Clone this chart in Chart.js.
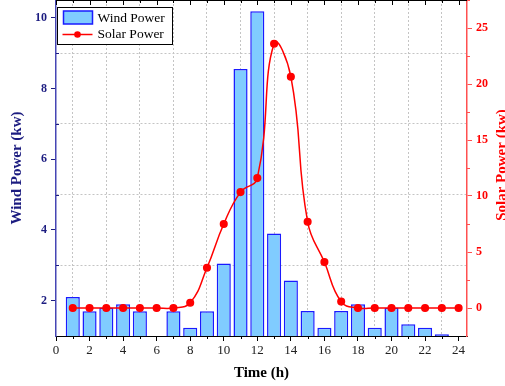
<!DOCTYPE html>
<html>
<head>
<meta charset="utf-8">
<script src="https://cdn.jsdelivr.net/npm/chart.js@4.4.1/dist/chart.umd.min.js"></script>
<style>
  html, body { margin: 0; padding: 0; background: #fff; }
  #wrap { width: 505px; height: 386px; }
</style>
</head>
<body>
<div id="wrap"><canvas id="chart" width="505" height="386"></canvas></div>
<script>
// hours of the day
const hours = [1, 2, 3, 4, 5, 6, 7, 8, 9, 10, 11, 12, 13, 14, 15, 16, 17, 18, 19, 20, 21, 22, 23, 24];
// wind power (kw), left axis
const windPower = [2.1, 1.7, 1.8, 1.9, 1.7, null, 1.7, 1.23, 1.7, 3.05, 8.55, 10.18,
                   3.9, 2.57, 1.71, 1.23, 1.71, 1.9, 1.23, 1.8, 1.33, 1.23, 1.05, null];
// solar power (kw), right axis
const solarPower = [0, 0, 0, 0, 0, 0, 0, 0.47, 3.6, 7.5, 10.35, 11.6,
                    23.6, 20.65, 7.7, 4.1, 0.57, 0, 0, 0, 0, 0, 0, 0];

const SERIF = "'Liberation Serif', 'Times New Roman', serif";
const NAVY = "#1c1c80";
const RED = "#ff0000";
const GRID = "#c4c4c4";
const NONE = "rgba(0,0,0,0)";

// no extra room for half labels at the ends of the axes
const noPad = s => { s.paddingTop = 0; s.paddingBottom = 0; s.paddingLeft = 0; s.paddingRight = 0; };

// ticks on the top edge, minor ticks, right title and the boxed legend
const extras = {
  id: "extras",
  afterDraw(chart) {
    const { ctx, chartArea: a, scales: { x, y, y1 } } = chart;
    ctx.save();
    ctx.lineWidth = 1;

    // top frame with inward ticks
    ctx.strokeStyle = "#000";
    ctx.beginPath();
    ctx.moveTo(a.left, a.top + 0.5);
    ctx.lineTo(a.right, a.top + 0.5);
    for (let v = 0; v <= 24; v++) {
      const px = Math.round(x.getPixelForValue(v)) + 0.5;
      ctx.moveTo(px, a.top);
      ctx.lineTo(px, a.top + (v % 2 ? 3 : 5));
    }
    // bottom minor ticks
    for (let v = 1; v <= 23; v += 2) {
      const px = Math.round(x.getPixelForValue(v)) + 0.5;
      ctx.moveTo(px, a.bottom);
      ctx.lineTo(px, a.bottom + 3);
    }
    ctx.stroke();

    // left minor ticks (inward)
    ctx.strokeStyle = NAVY;
    ctx.beginPath();
    for (let v = 3; v <= 9; v += 2) {
      const py = Math.round(y.getPixelForValue(v)) + 0.5;
      ctx.moveTo(a.left, py);
      ctx.lineTo(a.left + 3, py);
    }
    ctx.stroke();

    // right minor ticks (outward)
    ctx.strokeStyle = "#ff5050";
    ctx.beginPath();
    for (let v = 2.5; v <= 27.5; v += 5) {
      const py = Math.round(y1.getPixelForValue(v)) + 0.5;
      ctx.moveTo(a.right, py);
      ctx.lineTo(a.right + 3, py);
    }
    ctx.stroke();

    // right axis title, reads bottom to top like the left one
    ctx.fillStyle = RED;
    ctx.font = "bold 15px " + SERIF;
    ctx.textAlign = "center";
    ctx.textBaseline = "middle";
    ctx.translate(502, (a.top + a.bottom) / 2 - 3);
    ctx.rotate(-Math.PI / 2);
    ctx.fillText("Solar Power (kw)", 0, 0);
    ctx.setTransform(1, 0, 0, 1, 0, 0);

    // legend
    const bar = chart.data.datasets[1];
    const line = chart.data.datasets[0];
    const lx = a.left + 1.5, ly = 7.5;
    ctx.fillStyle = "#fff";
    ctx.fillRect(lx, ly, 115, 37);
    ctx.strokeStyle = "#000";
    ctx.strokeRect(lx, ly, 115, 37);

    ctx.fillStyle = bar.backgroundColor;
    ctx.fillRect(lx + 6, ly + 3.5, 29, 13);
    ctx.strokeStyle = bar.borderColor;
    ctx.lineWidth = 1.5;
    ctx.strokeRect(lx + 6, ly + 3.5, 29, 13);

    ctx.strokeStyle = line.borderColor;
    ctx.beginPath();
    ctx.moveTo(lx + 5, ly + 27);
    ctx.lineTo(lx + 35, ly + 27);
    ctx.stroke();
    ctx.fillStyle = line.pointBackgroundColor;
    ctx.beginPath();
    ctx.arc(lx + 20, ly + 27, 3.3, 0, Math.PI * 2);
    ctx.fill();

    ctx.fillStyle = "#000";
    ctx.font = "13.5px " + SERIF;
    ctx.textAlign = "left";
    ctx.fillText(bar.label, lx + 40, ly + 10.5);
    ctx.fillText(line.label, lx + 40, ly + 27);
    ctx.restore();
  }
};

new Chart(document.getElementById("chart"), {
  type: "bar",
  data: {
    datasets: [
      {
        type: "line",
        label: "Solar Power",
        data: hours.map((h, i) => ({ x: h, y: solarPower[i] })),
        yAxisID: "y1",
        borderColor: RED,
        backgroundColor: RED,
        pointBackgroundColor: RED,
        pointBorderColor: RED,
        pointRadius: 3.3,
        borderWidth: 1.5,
        tension: 0.45,
        order: 0
      },
      {
        label: "Wind Power",
        data: hours.map((h, i) => ({ x: h, y: windPower[i] })),
        yAxisID: "y",
        backgroundColor: "#80ccff",
        borderColor: "#1a1aff",
        borderWidth: 1.5,
        barPercentage: 1,
        categoryPercentage: 0.84,
        order: 1
      }
    ]
  },
  options: {
    responsive: false,
    animation: false,
    layout: { padding: 0, autoPadding: false },
    plugins: { legend: { display: false }, tooltip: { enabled: false } },
    scales: {
      x: {
        type: "linear",
        position: "bottom",
        offset: false,
        min: 0,
        max: 24.5,
        afterFit: s => { s.height = 50; noPad(s); },
        ticks: {
          stepSize: 1,
          includeBounds: false,
          autoSkip: false,
          maxRotation: 0,
          padding: 2,
          color: "#222",
          font: { family: SERIF, size: 13 },
          callback: v => (v % 2 === 0 ? v : "")
        },
        grid: {
          offset: false,
          color: c => (c.tick && c.tick.value % 2 === 1 ? GRID : NONE),
          tickColor: c => (c.tick && c.tick.value % 2 === 0 ? "#000" : NONE),
          tickLength: 5
        },
        border: { color: "#000", width: 1, dash: [2, 2] },
        title: {
          display: true,
          text: "Time (h)",
          color: "#000",
          font: { family: SERIF, size: 15, weight: "bold" },
          padding: { top: 0, bottom: 4 }
        }
      },
      y: {
        position: "left",
        min: 1,
        max: 10.5,
        afterFit: s => { s.width = 56; noPad(s); },
        ticks: {
          stepSize: 1,
          includeBounds: false,
          padding: 4,
          color: NAVY,
          font: { family: SERIF, size: 12, weight: "bold" },
          callback: v => (v % 2 === 0 ? v : "")
        },
        grid: {
          offset: false,
          color: c => (c.tick && c.tick.value % 2 === 1 && c.tick.value > 1 ? GRID : NONE),
          tickColor: c => (c.tick && c.tick.value % 2 === 0 ? NAVY : NONE),
          tickLength: 5
        },
        border: { color: "#4646b4", width: 1.5, dash: [2, 2] },
        title: {
          display: true,
          text: "Wind Power (kw)",
          color: NAVY,
          font: { family: SERIF, size: 15, weight: "bold" },
          padding: { top: 8, bottom: 0 }
        }
      },
      y1: {
        position: "right",
        min: -2.5,
        max: 27.5,
        afterFit: s => { s.width = 38; noPad(s); },
        ticks: {
          stepSize: 2.5,
          includeBounds: false,
          padding: 4,
          color: RED,
          font: { family: SERIF, size: 12, weight: "bold" },
          callback: v => (v % 5 === 0 ? v : "")
        },
        grid: {
          drawOnChartArea: false,
          tickColor: c => (c.tick && c.tick.value % 5 === 0 ? "#ff5050" : NONE),
          tickLength: 5
        },
        border: { color: "#ff5050", width: 1.5 }
      }
    }
  },
  plugins: [extras]
});
</script>
</body>
</html>
